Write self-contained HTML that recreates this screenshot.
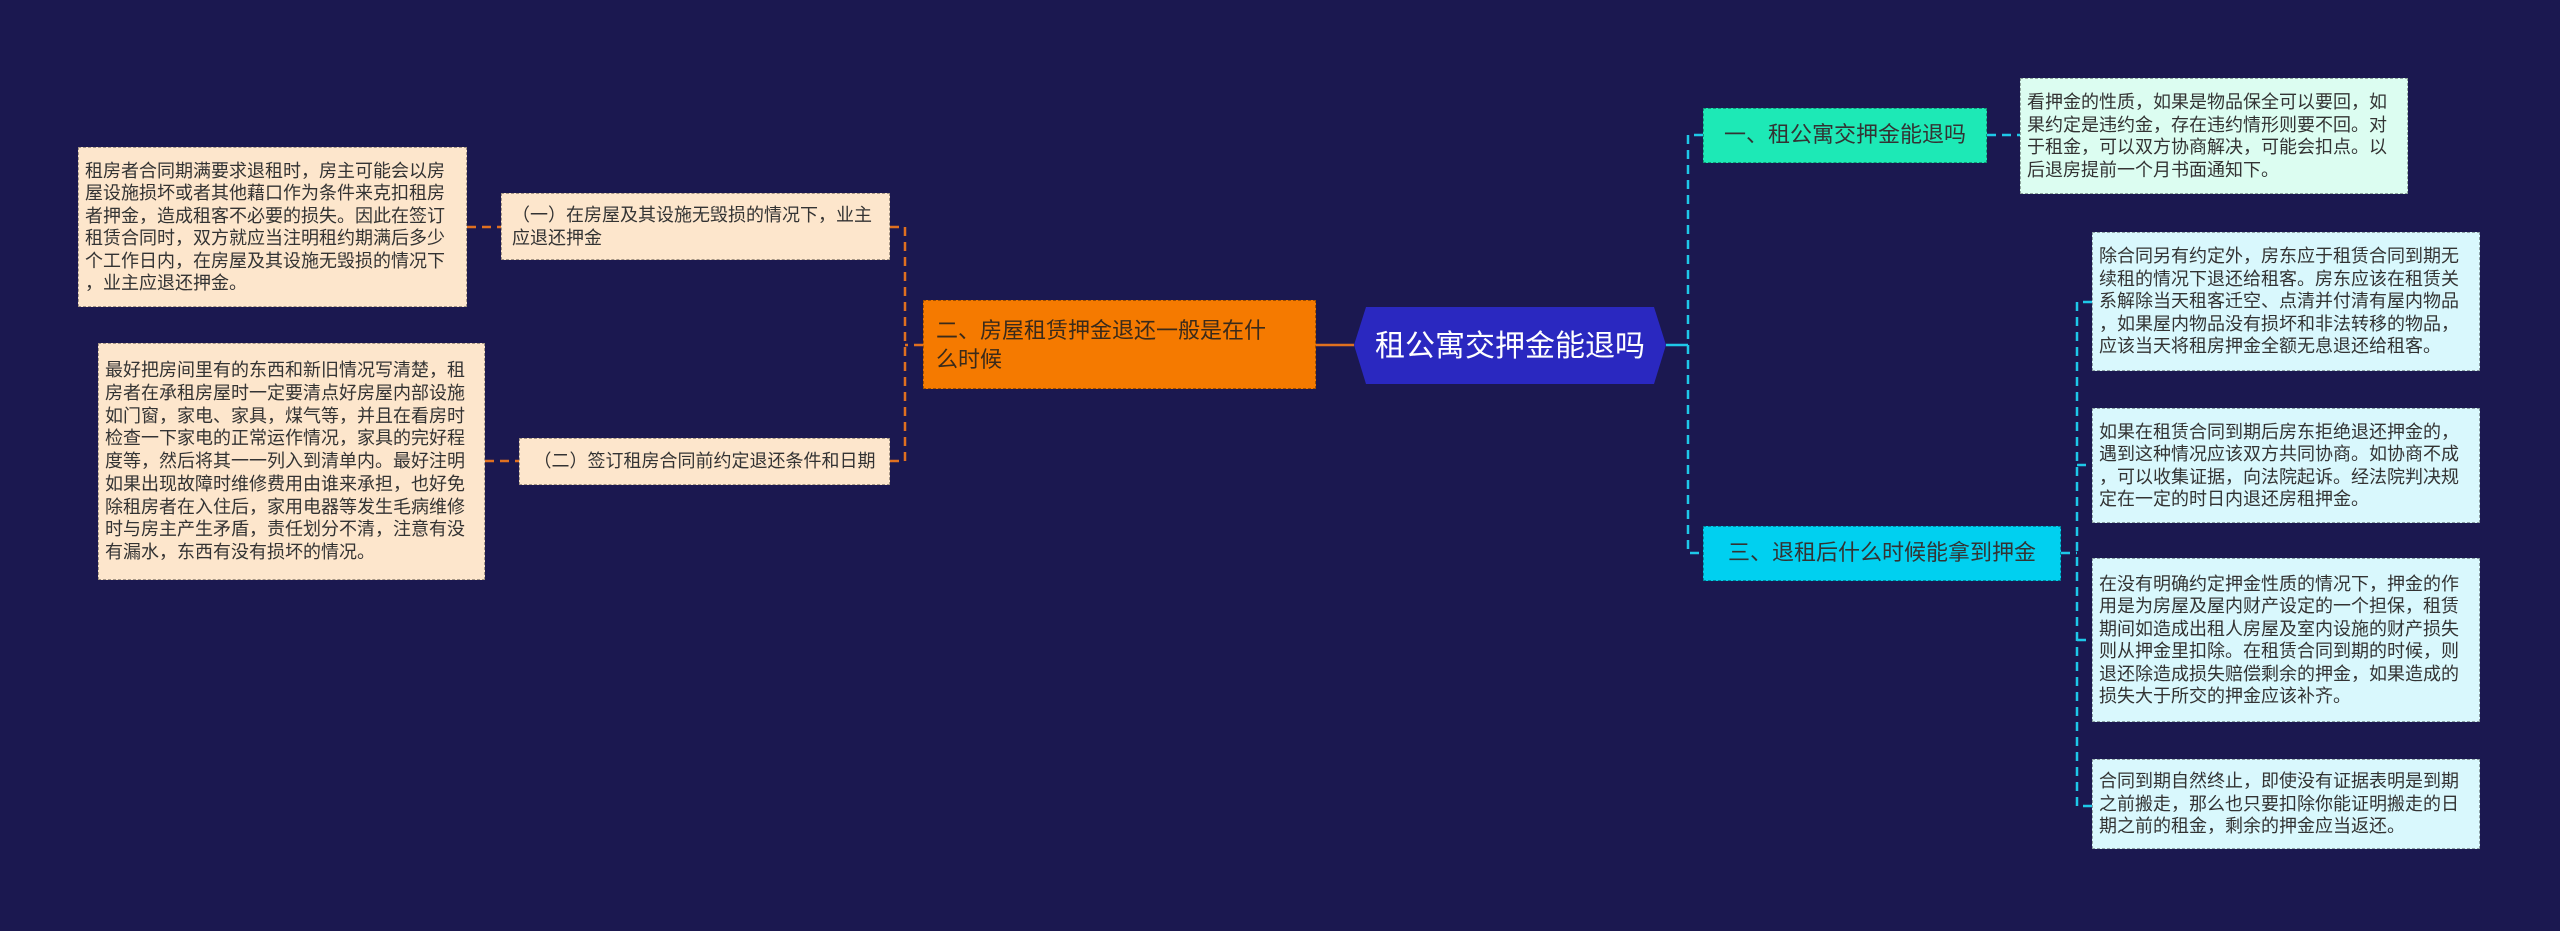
<!DOCTYPE html>
<html><head><meta charset="utf-8"><style>
html,body{margin:0;padding:0}
body{width:2560px;height:931px;background:#1b1850;position:relative;overflow:hidden;font-family:"Liberation Sans","Noto Sans CJK SC",sans-serif}
.b{position:absolute;box-sizing:border-box;display:flex;align-items:center;color:#333;font-size:18px;line-height:22.5px;padding:0 6px;border:1.5px dashed rgba(0,0,0,0.35);line-break:anywhere}
.pe{background:#fde6cc}
.mi{background:#dcfdf1}
.cy{background:#d9f8fd}
svg{position:absolute;left:0;top:0}
</style></head><body>
<svg width="2560" height="931">
<g fill="none" stroke-width="2.5" stroke-dasharray="9,6">
<g stroke="#e07020">
<line x1="1316" y1="345" x2="1354" y2="345" stroke-dasharray="none"/>
<polyline points="923,345 905,345"/>
<polyline points="890,227 905,227 905,461 890,461"/>
<line x1="467" y1="227" x2="501" y2="227"/>
<line x1="485" y1="461" x2="519" y2="461"/>
</g>
<g stroke="#1ec8e8">
<line x1="1666" y1="345" x2="1688" y2="345" stroke-dasharray="none"/>
<polyline points="1703,135 1688,135 1688,553 1703,553"/>
<line x1="1987" y1="135" x2="2020" y2="135"/>
<line x1="2061" y1="553" x2="2077" y2="553"/>
<polyline points="2092,302 2077,302 2077,806 2092,806"/>
<line x1="2077" y1="465" x2="2092" y2="465"/>
<line x1="2077" y1="640" x2="2092" y2="640"/>
</g>
</g>
<polygon points="1366,307 1654,307 1666,345 1654,384 1366,384 1354,345" fill="#2a28c0"/>
<text x="1510" y="356" fill="#fff" font-size="30" text-anchor="middle" font-family="Liberation Sans, Noto Sans CJK SC, sans-serif">租公寓交押金能退吗</text>
</svg>

<div class="b" style="left:923px;top:300px;width:393px;height:89px;background:#f57a00;font-size:22px;line-height:29px;padding:0 36px 0 12px;color:#3a2a1a">二、房屋租赁押金退还一般是在什么时候</div>

<div class="b pe" style="left:501px;top:193px;width:389px;height:67px;padding:0 10px">（一）在房屋及其设施无毁损的情况下，业主应退还押金</div>
<div class="b pe" style="left:78px;top:147px;width:389px;height:160px">租房者合同期满要求退租时，房主可能会以房屋设施损坏或者其他藉口作为条件来克扣租房者押金，造成租客不必要的损失。因此在签订租赁合同时，双方就应当注明租约期满后多少个工作日内，在房屋及其设施无毁损的情况下，业主应退还押金。</div>
<div class="b pe" style="left:519px;top:438px;width:371px;height:47px;justify-content:center">（二）签订租房合同前约定退还条件和日期</div>
<div class="b pe" style="left:98px;top:343px;width:387px;height:237px;line-height:22.7px">最好把房间里有的东西和新旧情况写清楚，租房者在承租房屋时一定要清点好房屋内部设施如门窗，家电、家具，煤气等，并且在看房时检查一下家电的正常运作情况，家具的完好程度等，然后将其一一列入到清单内。最好注明如果出现故障时维修费用由谁来承担，也好免除租房者在入住后，家用电器等发生毛病维修时与房主产生矛盾，责任划分不清，注意有没有漏水，东西有没有损坏的情况。</div>

<div class="b" style="left:1703px;top:108px;width:284px;height:55px;background:#1de9b6;font-size:22px;justify-content:center">一、租公寓交押金能退吗</div>
<div class="b mi" style="left:2020px;top:78px;width:388px;height:116px">看押金的性质，如果是物品保全可以要回，如果约定是违约金，存在违约情形则要不回。对于租金，可以双方协商解决，可能会扣点。以后退房提前一个月书面通知下。</div>

<div class="b" style="left:1703px;top:526px;width:358px;height:55px;background:#00d0f0;font-size:22px;justify-content:center">三、退租后什么时候能拿到押金</div>
<div class="b cy" style="left:2092px;top:232px;width:388px;height:139px">除合同另有约定外，房东应于租赁合同到期无续租的情况下退还给租客。房东应该在租赁关系解除当天租客迁空、点清并付清有屋内物品，如果屋内物品没有损坏和非法转移的物品，应该当天将租房押金全额无息退还给租客。</div>
<div class="b cy" style="left:2092px;top:408px;width:388px;height:115px">如果在租赁合同到期后房东拒绝退还押金的，遇到这种情况应该双方共同协商。如协商不成，可以收集证据，向法院起诉。经法院判决规定在一定的时日内退还房租押金。</div>
<div class="b cy" style="left:2092px;top:558px;width:388px;height:164px">在没有明确约定押金性质的情况下，押金的作用是为房屋及屋内财产设定的一个担保，租赁期间如造成出租人房屋及室内设施的财产损失则从押金里扣除。在租赁合同到期的时候，则退还除造成损失赔偿剩余的押金，如果造成的损失大于所交的押金应该补齐。</div>
<div class="b cy" style="left:2092px;top:759px;width:388px;height:90px">合同到期自然终止，即使没有证据表明是到期之前搬走，那么也只要扣除你能证明搬走的日期之前的租金，剩余的押金应当返还。</div>
</body></html>
